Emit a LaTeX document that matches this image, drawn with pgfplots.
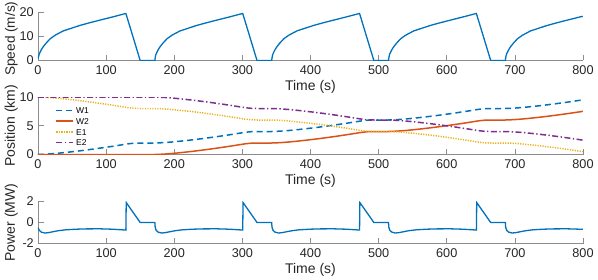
\documentclass[border=0pt]{standalone}
\usepackage{fontspec}
\setmainfont{Liberation Sans}
\usepackage{pgfplots}
\usepackage{pgfplotstable}
\pgfplotsset{compat=1.18}
\definecolor{mblue}{rgb}{0,0.447,0.741}
\definecolor{morange}{rgb}{0.85,0.325,0.098}
\definecolor{myellow}{rgb}{0.929,0.694,0.125}
\definecolor{mpurple}{rgb}{0.494,0.184,0.556}

\pgfplotstableread{
t v
0 0.8
2 2.8
5 4.5
8 5.8
12 7.2
18 9.0
25 10.4
37 12.2
50 13.4
62 14.5
75 15.5
86 16.3
98 17.15
110 18.0
120 18.74
129 19.4
150 0
171.5 0
172.5 1.9
173.5 2.8
176.5 4.5
179.5 5.8
183.5 7.2
189.5 9.0
196.5 10.4
208.5 12.2
221.5 13.4
233.5 14.5
246.5 15.5
257.5 16.3
269.5 17.15
281.5 18.0
291.5 18.74
300.5 19.4
321.5 0
343 0
344 1.9
345 2.8
348 4.5
351 5.8
355 7.2
361 9.0
368 10.4
380 12.2
393 13.4
405 14.5
418 15.5
429 16.3
441 17.15
453 18.0
463 18.74
472 19.4
493 0
514.5 0
515.5 1.9
516.5 2.8
519.5 4.5
522.5 5.8
526.5 7.2
532.5 9.0
539.5 10.4
551.5 12.2
564.5 13.4
576.5 14.5
589.5 15.5
600.5 16.3
612.5 17.15
624.5 18.0
634.5 18.74
643.5 19.4
664.5 0
686 0
687 1.9
688 2.8
691 4.5
694 5.8
698 7.2
704 9.0
711 10.4
723 12.2
736 13.4
748 14.5
761 15.5
772 16.3
784 17.15
796 18.0
800 18.2
}\speed

\pgfplotstableread{
t w e
0 0 10
12 0.056 9.944
25 0.173 9.827
37 0.310 9.690
50 0.478 9.522
62 0.647 9.353
75 0.844 9.156
86 1.020 8.980
98 1.223 8.777
110 1.436 8.564
120 1.621 8.379
129 1.794 8.206
134 1.881 8.119
140 1.953 8.047
145 1.988 8.012
150 2.000 8.000
171.5 2.000 8.000
183.5 2.056 7.944
196.5 2.173 7.827
208.5 2.310 7.690
221.5 2.478 7.522
233.5 2.647 7.353
246.5 2.844 7.156
257.5 3.020 6.980
269.5 3.223 6.777
281.5 3.436 6.564
291.5 3.621 6.379
300.5 3.794 6.206
305.5 3.881 6.119
311.5 3.953 6.047
316.5 3.988 6.012
321.5 4.000 6.000
343 4.000 6.000
355 4.056 5.944
368 4.173 5.827
380 4.310 5.690
393 4.478 5.522
405 4.647 5.353
418 4.844 5.156
429 5.020 4.980
441 5.223 4.777
453 5.436 4.564
463 5.621 4.379
472 5.794 4.206
477 5.881 4.119
483 5.953 4.047
488 5.988 4.012
493 6.000 4.000
514.5 6.000 4.000
526.5 6.056 3.944
539.5 6.173 3.827
551.5 6.310 3.690
564.5 6.478 3.522
576.5 6.647 3.353
589.5 6.844 3.156
600.5 7.020 2.980
612.5 7.223 2.777
624.5 7.436 2.564
634.5 7.621 2.379
643.5 7.794 2.206
648.5 7.881 2.119
654.5 7.953 2.047
659.5 7.988 2.012
664.5 8.000 2.000
686 8.000 2.000
698 8.056 1.944
711 8.173 1.827
723 8.310 1.690
736 8.478 1.522
748 8.647 1.353
761 8.844 1.156
772 9.020 0.980
784 9.223 0.777
796 9.436 0.564
800 9.509 0.491
}\trainA

\pgfplotstableread{
t w e
0 0 10
171.5 0 10
183.5 0.056 9.944
196.5 0.173 9.827
208.5 0.310 9.690
221.5 0.478 9.522
233.5 0.647 9.353
246.5 0.844 9.156
257.5 1.020 8.980
269.5 1.223 8.777
281.5 1.436 8.564
291.5 1.621 8.379
300.5 1.794 8.206
305.5 1.881 8.119
311.5 1.953 8.047
316.5 1.988 8.012
321.5 2.000 8.000
343 2.000 8.000
355 2.056 7.944
368 2.173 7.827
380 2.310 7.690
393 2.478 7.522
405 2.647 7.353
418 2.844 7.156
429 3.020 6.980
441 3.223 6.777
453 3.436 6.564
463 3.621 6.379
472 3.794 6.206
477 3.881 6.119
483 3.953 6.047
488 3.988 6.012
493 4.000 6.000
514.5 4.000 6.000
526.5 4.056 5.944
539.5 4.173 5.827
551.5 4.310 5.690
564.5 4.478 5.522
576.5 4.647 5.353
589.5 4.844 5.156
600.5 5.020 4.980
612.5 5.223 4.777
624.5 5.436 4.564
634.5 5.621 4.379
643.5 5.794 4.206
648.5 5.881 4.119
654.5 5.953 4.047
659.5 5.988 4.012
664.5 6.000 4.000
686 6.000 4.000
698 6.056 3.944
711 6.173 3.827
723 6.310 3.690
736 6.478 3.522
748 6.647 3.353
761 6.844 3.156
772 7.020 2.980
784 7.223 2.777
796 7.436 2.564
800 7.509 2.491
}\trainB

\pgfplotstableread{
t p
0 -0.5
2 -0.75
5 -0.92
10 -1.0
15 -0.97
22 -0.88
30 -0.78
40 -0.70
55 -0.64
70 -0.61
90 -0.60
110 -0.64
129 -0.72
129.5 1.9
150 0
171.5 0
172 -0.45
173.5 -0.75
176.5 -0.92
181.5 -1.0
186.5 -0.97
193.5 -0.88
201.5 -0.78
211.5 -0.70
226.5 -0.64
241.5 -0.61
261.5 -0.60
281.5 -0.64
300.5 -0.72
301 1.9
321.5 0
343 0
343.5 -0.45
345 -0.75
348 -0.92
353 -1.0
358 -0.97
365 -0.88
373 -0.78
383 -0.70
398 -0.64
413 -0.61
433 -0.60
453 -0.64
472 -0.72
472.5 1.9
493 0
514.5 0
515 -0.45
516.5 -0.75
519.5 -0.92
524.5 -1.0
529.5 -0.97
536.5 -0.88
544.5 -0.78
554.5 -0.70
569.5 -0.64
584.5 -0.61
604.5 -0.60
624.5 -0.64
643.5 -0.72
644 1.9
664.5 0
686 0
686.5 -0.45
688 -0.75
691 -0.92
696 -1.0
701 -0.97
708 -0.88
716 -0.78
726 -0.70
741 -0.64
756 -0.61
776 -0.60
796 -0.64
800 -0.65
}\power

\pgfplotsset{
  mstyle/.style={
    scale only axis, width=545pt,
    xmin=0, xmax=800, xtick={0,100,...,800},
    axis x line*=bottom, axis y line*=left,
    tick align=inside, major tick length=5.5pt,
    axis line style={black!45, line width=0.6pt},
    tick style={black!45, line width=0.6pt},
    /pgf/number format/assume math mode=true,
    tick label style={font=\fontsize{12.7}{14}\selectfont, text=black!85},
    xticklabel style={anchor=north, inner sep=0pt, yshift=-4.5pt},
    yticklabel style={anchor=east, inner sep=0pt, xshift=-4pt},
    label style={font=\fontsize{14}{16}\selectfont, text=black!85},
    xlabel={Time (s)},
    xlabel style={at={(axis description cs:0.5,0)}, anchor=north, inner sep=0pt, yshift=-19.5pt},
    ylabel style={at={(axis description cs:-0.0422,0.5)}, anchor=base, inner sep=0pt},
  }
}

\begin{document}
\begin{tikzpicture}
\path[use as bounding box] (0,0) rectangle (598pt,279pt);

\begin{axis}[mstyle, height=48.5pt, at={(38pt,218.5pt)}, anchor=south west,
  ymin=0, ymax=20, ytick={0,10,20}, ylabel={Speed (m/s)},
  ylabel style={at={(axis description cs:-0.0422,0.45)}, font=\fontsize{13.6}{15}\selectfont}]
\addplot[mblue, line width=1.3pt] table[x=t,y=v] {\speed};
\end{axis}

\begin{axis}[mstyle, height=57.5pt, at={(38pt,124.5pt)}, anchor=south west,
  ymin=0, ymax=10, ytick={0,5,10}, ylabel={Position (km)},
  legend cell align=left,
  legend image code/.code={\draw[#1] (0pt,0pt) -- (17pt,0pt);},
  legend style={at={(axis description cs:0,1)}, anchor=north west,
    xshift=17.5pt, yshift=-10.2pt, draw=none, fill=none,
    inner sep=0pt, column sep=2pt, row sep=4.5pt,
    font=\fontsize{8.5}{9}\selectfont,
    nodes={inner sep=0pt, text height=6.2pt, text depth=0pt}}]
\addplot[mblue, line width=1.5pt, dash pattern=on 6pt off 4pt] table[x=t,y=w] {\trainA};
\addlegendentry{W1}
\addplot[morange, line width=1.5pt, solid] table[x=t,y=w] {\trainB};
\addlegendentry{W2}
\addplot[myellow, line width=1.5pt, dash pattern=on 1.2pt off 1.3pt] table[x=t,y=e] {\trainA};
\addlegendentry{E1}
\addplot[mpurple, line width=1.5pt, dash pattern=on 6pt off 2.5pt on 1.3pt off 2.5pt] table[x=t,y=e] {\trainB};
\addlegendentry{E2}
\end{axis}

\begin{axis}[mstyle, height=42pt, at={(38pt,35.5pt)}, anchor=south west,
  ymin=-2, ymax=2, ytick={-2,0,2}, ylabel={Power (MW)}]
\addplot[mblue, line width=1.3pt] table[x=t,y=p] {\power};
\end{axis}
\end{tikzpicture}
\end{document}
